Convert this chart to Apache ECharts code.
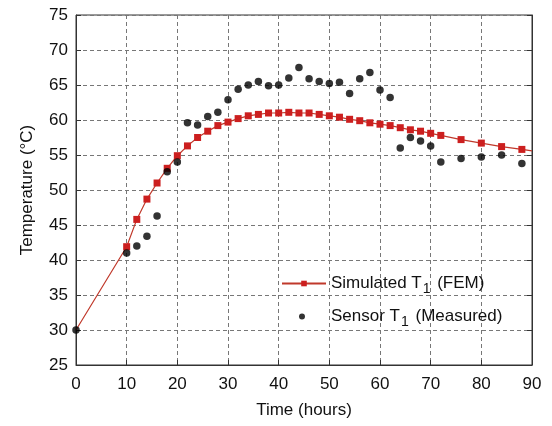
<!DOCTYPE html>
<html>
<head>
<meta charset="utf-8">
<script src="https://cdn.jsdelivr.net/npm/echarts@6/dist/echarts.min.js"></script>
<style>
  html, body { margin: 0; padding: 0; background: #fff; }
  #chart { width: 552px; height: 426px; }
</style>
</head>
<body>
<div id="chart"></div>
<script>
// simulated (FEM) curve, hours -> temperature
var simHours = [0, 10, 12, 14, 16, 18, 20, 22, 24, 26, 28, 30, 32, 34, 36, 38, 40, 42, 44, 46, 48,
  50, 52, 54, 56, 58, 60, 62, 64, 66, 68, 70, 72, 76, 80, 84, 88, 90];
var simTemp = [30.0, 41.9, 45.8, 48.7, 51.0, 53.1, 54.9, 56.3, 57.5, 58.4, 59.2, 59.7, 60.2, 60.6, 60.8,
  61.0, 61.0, 61.1, 61.0, 61.0, 60.8, 60.6, 60.4, 60.1, 59.9, 59.6, 59.4, 59.2, 58.9, 58.6, 58.4,
  58.1, 57.8, 57.2, 56.7, 56.2, 55.8, 55.6];

// sensor measurements
var sensorHours = [0, 10, 12, 14, 16, 18, 20, 22, 24, 26, 28, 30, 32, 34, 36, 38, 40, 42, 44, 46, 48,
  50, 52, 54, 56, 58, 60, 62, 64, 66, 68, 70, 72, 76, 80, 84, 88];
var sensorTemp = [30.0, 41.0, 42.0, 43.4, 46.3, 52.6, 54.0, 59.6, 59.3, 60.5, 61.1, 62.9, 64.4, 65.0,
  65.5, 64.9, 65.0, 66.0, 67.5, 65.9, 65.5, 65.2, 65.4, 63.8, 65.9, 66.8, 64.3, 63.2, 56.0, 57.5,
  57.0, 56.3, 54.0, 54.5, 54.7, 55.0, 53.8];

var xTicks = [0, 10, 20, 30, 40, 50, 60, 70, 80, 90];
var yTicks = [25, 30, 35, 40, 45, 50, 55, 60, 65, 70, 75];

var chart = echarts.init(document.getElementById("chart"));

// end points of the FEM curve carry no marker
var simData = simHours.map(function (h, i) {
  var p = { value: [h, simTemp[i]] };
  if (h === 0 || h === 90) p.symbol = "none";
  return p;
});
var sensorData = sensorHours.map(function (h, i) { return [h, sensorTemp[i]]; });

var font = "Liberation Sans, Arial, sans-serif";
var gridLine = { show: true, lineStyle: { color: "#777", type: [4, 3], width: 1 } };

var option = {
  animation: false,
  grid: { left: 76, right: 20, top: 15, bottom: 61, show: true, borderColor: "#333", borderWidth: 1 },
  xAxis: {
    type: "value",
    min: xTicks[0],
    max: xTicks[xTicks.length - 1],
    interval: 10,
    name: "Time (hours)",
    nameLocation: "middle",
    nameGap: 37,
    nameTextStyle: { fontFamily: font, fontSize: 17, color: "#111" },
    axisLine: { lineStyle: { color: "#333" } },
    axisTick: { inside: true, length: 5, lineStyle: { color: "#333" } },
    axisLabel: { fontFamily: font, fontSize: 17, color: "#111", margin: 11 },
    splitLine: gridLine
  },
  yAxis: [{
    type: "value",
    min: yTicks[0],
    max: yTicks[yTicks.length - 1],
    interval: 5,
    name: "Temperature (°C)",
    nameLocation: "middle",
    nameGap: 40,
    nameTextStyle: { fontFamily: font, fontSize: 17, color: "#111" },
    axisLine: { show: true, lineStyle: { color: "#333" } },
    axisTick: { show: true, inside: true, length: 5, lineStyle: { color: "#333" } },
    axisLabel: { fontFamily: font, fontSize: 17, color: "#111", margin: 8 },
    splitLine: gridLine
  }, {
    type: "value",
    position: "right",
    min: yTicks[0],
    max: yTicks[yTicks.length - 1],
    interval: 5,
    axisLine: { show: true, lineStyle: { color: "#333" } },
    axisTick: { show: true, inside: true, length: 5, lineStyle: { color: "#333" } },
    axisLabel: { show: false },
    splitLine: { show: false }
  }],
  legend: {
    orient: "vertical",
    left: 276,
    top: 270,
    itemWidth: 44,
    itemHeight: 7,
    itemGap: 12,
    textStyle: {
      fontFamily: font, fontSize: 17, color: "#111",
      rich: {
        t: { fontFamily: font, fontSize: 17, color: "#111" },
        s: { fontFamily: font, fontSize: 14, color: "#111", padding: [11, 2, 0, 1] }
      }
    },
    data: [
      { name: "sim" },
      { name: "sensor", icon: "path://M20,0 a3,3 0 1,0 0.01,0 Z M0,0 L0.01,0 M44,0 L44.01,0" }
    ],
    formatter: function (name) {
      return name === "sim"
        ? "{t|Simulated T}{s|1}{t| (FEM)}"
        : "{t|Sensor T}{s|1}{t| (Measured)}";
    }
  },
  series: [{
    name: "sim",
    type: "line",
    data: simData,
    symbol: "rect",
    symbolSize: 7,
    showSymbol: true,
    lineStyle: { color: "#c0392b", width: 1.2 },
    itemStyle: { color: "#cc1f1f" },
    z: 3
  }, {
    name: "sensor",
    type: "scatter",
    data: sensorData,
    symbol: "circle",
    symbolSize: 7.5,
    itemStyle: { color: "#000" },
    z: 4
  }]
};

option && chart.setOption(option);
</script>
</body>
</html>
